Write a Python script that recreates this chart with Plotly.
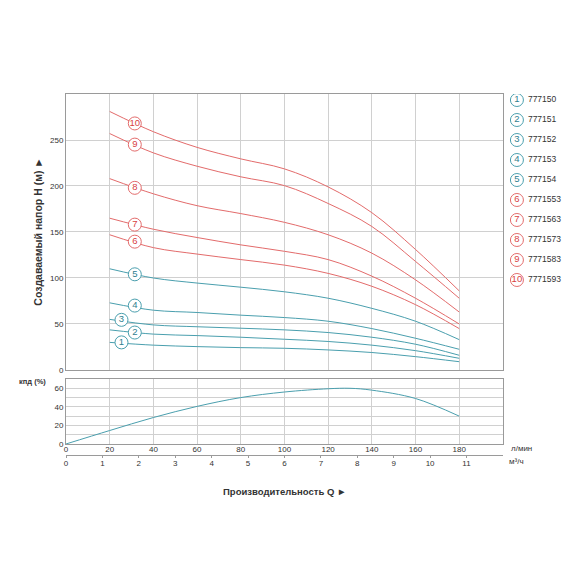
import plotly.graph_objects as go

# flow, L/min
q = [20, 40, 60, 80, 100, 120, 140, 160, 180]

# head curves, m
h1 = [30, 27, 25.4, 24.3, 23.6, 21.8, 19, 14.5, 9]
h2 = [43.6, 39, 37.4, 35.6, 33.4, 31, 27, 21, 12.7]
h3 = [55, 49, 47, 45.4, 43.6, 40.7, 35.6, 28, 16]
h4 = [73, 65, 62.5, 59.6, 57, 53, 45, 34.5, 22.5]
h5 = [110, 100, 94.5, 90, 85, 78, 67, 53, 33]
h6 = [147, 133, 126, 120, 114, 105, 91, 71, 45]
h7 = [165, 153, 144, 136, 129, 120, 102, 78, 50]
h8 = [208, 191.5, 178.6, 170, 160.5, 147, 127, 98, 63]
h9 = [257, 236, 221.5, 210, 200.4, 181, 156, 118, 78]
h10 = [281, 259, 242, 229.5, 218.6, 199, 171, 131, 86]

models = ["777150", "777151", "777152", "777153", "777154",
          "7771553", "7771563", "7771573", "7771583", "7771593"]

# where the numbered circles sit on each curve
label_q = [25.4, 31.5, 25.4, 31.5, 31.5, 31.5, 31.5, 31.5, 31.5, 31.5]
label_h = [30, 40.7, 54.5, 70, 104, 139.5, 158, 198, 245, 268]

# efficiency curve
q_eff = [0, 20, 40, 60, 80, 100, 120, 130, 140, 160, 180]
eff = [0, 14.5, 28.5, 40.5, 50, 56, 59.5, 60, 58, 49, 30]

q_ticks = [0, 20, 40, 60, 80, 100, 120, 140, 160, 180]
m3h_ticks = [0, 1, 2, 3, 4, 5, 6, 7, 8, 9, 10, 11]

TEAL = "#4a9fae"
TEAL_TXT = "#2f8090"
RED = "#e36b6b"
RED_TXT = "#d8423f"
GRID = "#d0d0d0"
BORDER = "#9a9a9a"
FONT = "Liberation Sans, Arial, sans-serif"

heads = [h1, h2, h3, h4, h5, h6, h7, h8, h9, h10]

fig = go.Figure()

for i, h in enumerate(heads):
    col = TEAL if i < 5 else RED
    fig.add_trace(go.Scatter(x=q, y=h, mode="lines", line=dict(color=col, width=1, shape="spline"),
                             xaxis="x", yaxis="y", hoverinfo="skip"))

for i in range(10):
    col = TEAL if i < 5 else RED
    tcol = TEAL_TXT if i < 5 else RED_TXT
    fig.add_trace(go.Scatter(x=[label_q[i]], y=[label_h[i]], mode="markers+text",
                             marker=dict(symbol="circle", size=13, color="white", line=dict(color=col, width=1)),
                             text=[str(i + 1)], textposition="middle center",
                             textfont=dict(color=tcol, size=9.5, family=FONT),
                             xaxis="x", yaxis="y", hoverinfo="skip"))

# legend column drawn on its own axis (pixel units)
leg_y = [6 + 20 * i for i in range(10)]
fig.add_trace(go.Scatter(x=[14] * 10, y=leg_y, mode="markers+text",
                         marker=dict(symbol="circle", size=13, color="white",
                                     line=dict(color=[TEAL] * 5 + [RED] * 5, width=1)),
                         text=[str(i + 1) for i in range(10)], textposition="middle center",
                         textfont=dict(color=[TEAL_TXT] * 5 + [RED_TXT] * 5, size=9.5, family=FONT),
                         xaxis="x4", yaxis="y4", hoverinfo="skip"))
fig.add_trace(go.Scatter(x=[25] * 10, y=leg_y, mode="text", text=models, textposition="middle right",
                         textfont=dict(color="#333333", size=8.5, family=FONT),
                         xaxis="x4", yaxis="y4", hoverinfo="skip"))

fig.add_trace(go.Scatter(x=q_eff, y=eff, mode="lines", line=dict(color=TEAL, width=1, shape="spline"),
                         xaxis="x2", yaxis="y2", hoverinfo="skip"))

# empty trace so the m3/h axis gets drawn
fig.add_trace(go.Scatter(x=[], y=[], mode="lines", xaxis="x3", yaxis="y3", hoverinfo="skip"))

main_dom = 0.85
axis_common = dict(showgrid=True, gridcolor=GRID, gridwidth=1, zeroline=False,
                   showline=True, linecolor=BORDER, linewidth=1, mirror=True,
                   tickfont=dict(size=8, color="#333333", family=FONT))

# page body has an 8px margin, so the figure is 572 and shifted
fig.update_layout(
    width=572, height=572,
    margin=dict(l=58, r=0, t=86, b=125),
    paper_bgcolor="white", plot_bgcolor="white",
    showlegend=False,
    font=dict(family=FONT, color="#333333"),
    xaxis=dict(domain=[0, main_dom], range=[0, 200], tickvals=q_ticks + [200], showticklabels=False,
               ticks="", anchor="y", **axis_common),
    yaxis=dict(domain=[0.2355, 1], range=[0, 300], tickvals=[0, 50, 100, 150, 200, 250],
               ticks="", anchor="x", **axis_common),
    xaxis2=dict(domain=[0, main_dom], range=[0, 200], tickvals=q_ticks, ticks="", anchor="y2",
                ticklabelstandoff=-3, **axis_common),
    yaxis2=dict(domain=[0.0305, 0.2105], range=[0, 70], tickvals=[0, 10, 20, 30, 40, 50, 60],
                ticktext=["0", "", "20", "", "40", "", "60"], ticks="", anchor="x2", **axis_common),
    xaxis3=dict(domain=[0, main_dom], range=[0, 12], tickvals=m3h_ticks, ticks="outside", ticklen=2,
                tickcolor=BORDER, showline=True, linecolor=BORDER, showgrid=False, zeroline=False,
                ticklabelstandoff=-2,
                tickfont=dict(size=8, color="#333333", family=FONT), anchor="y3"),
    yaxis3=dict(domain=[0, 0.001], range=[0, 1], showgrid=False, zeroline=False, showline=False,
                showticklabels=False, ticks="", anchor="x3"),
    xaxis4=dict(domain=[main_dom, 1], range=[0, 77], visible=False, anchor="y4"),
    yaxis4=dict(domain=[0.2355, 1], range=[276, 0], visible=False, anchor="x4"),
)

fig.add_annotation(text="<b>Создаваемый напор H (м) ►</b>", xref="paper", yref="paper",
                   x=-0.055, y=0.618, xanchor="center", yanchor="middle", textangle=-90,
                   showarrow=False, font=dict(size=10.5, color="#333333", family=FONT))
fig.add_annotation(text="<b>кпд (%)</b>", xref="paper", yref="paper", x=-0.065, y=0.203,
                   xanchor="center", yanchor="middle", showarrow=False,
                   font=dict(size=7.5, color="#333333", family=FONT))
fig.add_annotation(text="л/мин", xref="paper", yref="paper", x=0.862, y=0.018,
                   xanchor="left", yanchor="middle", showarrow=False,
                   font=dict(size=8, color="#333333", family=FONT))
fig.add_annotation(text="м³/ч", xref="paper", yref="paper", x=0.858, y=-0.017,
                   xanchor="left", yanchor="middle", showarrow=False,
                   font=dict(size=8, color="#333333", family=FONT))
fig.add_annotation(text="<b>Производительность Q ►</b>", xref="paper", yref="paper",
                   x=0.425, y=-0.1, xanchor="center", yanchor="middle", showarrow=False,
                   font=dict(size=9.5, color="#333333", family=FONT))

fig.write_html("out.html")
